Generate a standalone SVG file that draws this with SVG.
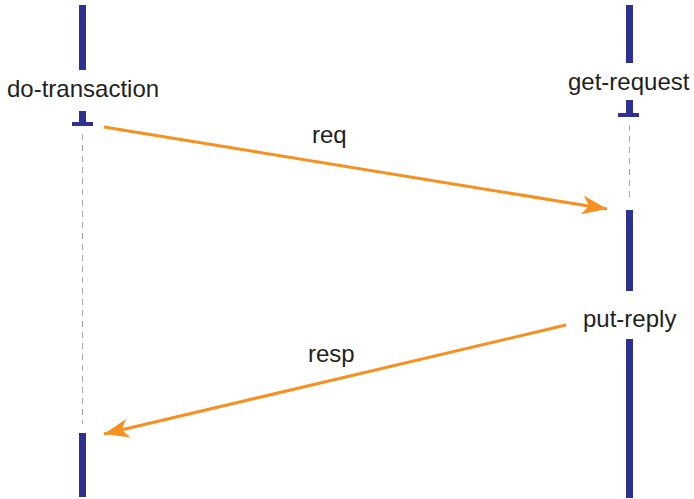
<svg xmlns="http://www.w3.org/2000/svg" width="694" height="499" viewBox="0 0 694 499">
<defs>
<style>
.bar{fill:#2E3192}
.dash{stroke:#AAAAAA;stroke-width:1;stroke-dasharray:6,5;fill:none}
.lbl{font-family:"Liberation Sans",Arial,sans-serif;font-size:24px;fill:#231F20}
.msg{stroke:#F7901E;stroke-width:3;fill:none}
</style>
<marker id="ah" markerUnits="userSpaceOnUse" markerWidth="30" markerHeight="24" viewBox="-26 -12 28 24" refX="0" refY="0" orient="auto">
<path d="M0,0 L-25,-9.5 L-18,0 L-25,9.5 Z" fill="#F7901E"/>
</marker>
</defs>
<rect width="694" height="499" fill="#FFFFFF"/>
<g id="do-transaction">
<rect class="bar" x="79" y="5" width="7" height="65"/>
<text class="lbl" x="7" y="97">do-transaction</text>
<rect class="bar" x="79" y="111" width="7" height="13"/>
<rect class="bar" x="72" y="122" width="21" height="4"/>
<line class="dash" x1="82.5" y1="134" x2="82.5" y2="424"/>
<rect class="bar" x="79" y="433" width="7" height="64"/>
</g>
<g id="get-request">
<rect class="bar" x="626" y="5" width="7" height="58"/>
<text class="lbl" x="568" y="90">get-request</text>
<rect class="bar" x="626" y="100" width="7" height="14"/>
<rect class="bar" x="618" y="113" width="21" height="4"/>
<line class="dash" x1="629.5" y1="125" x2="629.5" y2="202"/>
<rect class="bar" x="626" y="210" width="7" height="81"/>
<text class="lbl" x="583" y="327">put-reply</text>
<rect class="bar" x="626" y="339" width="7" height="159"/>
</g>
<g id="connectors">
<line class="msg" x1="104" y1="127" x2="607" y2="209" marker-end="url(#ah)"/>
<text class="lbl" x="312" y="143">req</text>
<line class="msg" x1="566" y1="325" x2="104" y2="434" marker-end="url(#ah)"/>
<text class="lbl" x="308" y="362">resp</text>
</g>
</svg>
